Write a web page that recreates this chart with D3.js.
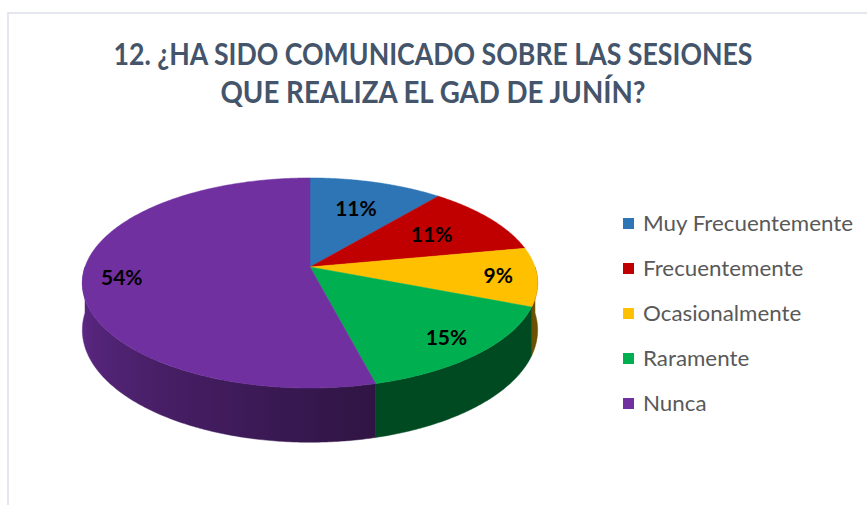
<!DOCTYPE html>
<meta charset="utf-8">
<style>
body{ margin:0; background:#fff; }
svg{ display:block; }
text{ font-family: Lato, "Open Sans", sans-serif; }
</style>
<svg width="867" height="505"></svg>
<script src="https://cdn.jsdelivr.net/npm/d3@7"></script>
<script>

var categories = ["Muy Frecuentemente", "Frecuentemente", "Ocasionalmente", "Raramente", "Nunca"];
var values = [11, 11, 9, 15, 54];
var colors = ["#2E75B6", "#C00000", "#FFC000", "#00B050", "#7030A0"];
var titleLines = ["12. ¿HA SIDO COMUNICADO SOBRE LAS SESIONES", "QUE REALIZA EL GAD DE JUNÍN?"];

var svg = d3.select("svg");
var defs = svg.append("defs");

// frame (only top and left edges are visible)
svg.append("path")
    .attr("d", "M8,505V13H867")
    .attr("fill", "none")
    .attr("stroke", "#dbe0e8")
    .attr("stroke-width", 1.5);

// title
var titleWidths = [639, 425];
svg.selectAll(".title")
  .data(titleLines)
  .enter().append("text")
    .attr("class", "title")
    .attr("x", 433)
    .attr("y", function(d, i) { return 65 + i * 38; })
    .attr("text-anchor", "middle")
    .attr("font-size", 31)
    .attr("font-weight", "bold")
    .attr("fill", "#44546A")
    .attr("textLength", function(d, i) { return titleWidths[i]; })
    .attr("lengthAdjust", "spacingAndGlyphs")
    .text(function(d) { return d; });

// 3d pie with a bit of perspective
var cx = 310, cy = 267,   // projected centre of the pie
    A = 225, B = 102.6,   // horizontal / vertical radii
    k = 0.152,            // perspective strength
    depth = 46;           // thickness

function proj(r, a, drop) {
  var u = Math.sin(a), v = -Math.cos(a),
      w = 1 - k * r * v;
  return [cx + A * r * u / w, cy + B * r * v / w + (drop || 0) / w];
}

var pie = d3.pie().sort(null).startAngle(0).endAngle(2 * Math.PI);
var arcs = pie(values);

function shade(c, a) {
  var deg = a * 180 / Math.PI;
  var f = 0.42 + 0.42 * Math.max(0, Math.min(1, (deg - 165) / 96));
  var col = d3.rgb(c);
  return d3.rgb(col.r * f, col.g * f, col.b * f).formatHex();
}

// visible part of the rim: between the two silhouette points
var silL = Math.PI - Math.acos(k), silR = Math.PI + Math.acos(k);
var xL = proj(1, silR)[0], xR = proj(1, silL)[0];

arcs.forEach(function(d, i) {
  var g = defs.append("linearGradient")
      .attr("id", "wall" + i)
      .attr("gradientUnits", "userSpaceOnUse")
      .attr("x1", xL).attr("x2", xR).attr("y1", 0).attr("y2", 0);
  d3.range(0, 21).forEach(function(j) {
    var a = silR - (silR - silL) * j / 20;
    g.append("stop")
      .attr("offset", (proj(1, a)[0] - xL) / (xR - xL))
      .attr("stop-color", shade(colors[i], a));
  });
});

var walls = arcs.map(function(d, i) {
  return {i: i, a0: Math.max(d.startAngle, Math.PI / 2), a1: Math.min(d.endAngle, Math.PI * 3 / 2)};
}).filter(function(s) { return s.a1 > s.a0; });

svg.append("g").selectAll("path")
  .data(walls)
  .enter().append("path")
    .attr("d", function(s) {
      var n = Math.max(2, Math.ceil((s.a1 - s.a0) / 0.01)), up = [], down = [];
      for (var j = 0; j <= n; j++) {
        var a = s.a0 + (s.a1 - s.a0) * j / n;
        up.push(proj(1, a));
        down.unshift(proj(1, a, depth));
      }
      return "M" + up.concat(down).join("L") + "Z";
    })
    .attr("fill", function(s) { return "url(#wall" + s.i + ")"; })
    .attr("stroke", function(s) { return "url(#wall" + s.i + ")"; })
    .attr("stroke-width", 0.5);

// top faces
var faces = svg.append("g");
faces.selectAll("path")
  .data(arcs)
  .enter().append("path")
    .attr("d", function(d) {
      var pts = [[cx, cy]];
      var n = Math.max(2, Math.ceil((d.endAngle - d.startAngle) / 0.01));
      for (var j = 0; j <= n; j++) {
        pts.push(proj(1, d.startAngle + (d.endAngle - d.startAngle) * j / n));
      }
      return "M" + pts.join("L") + "Z";
    })
    .attr("fill", function(d, i) { return colors[i]; })
    .attr("stroke", function(d, i) { return colors[i]; })
    .attr("stroke-width", 0.5);

// percentage labels
var total = d3.sum(values);
faces.selectAll("text")
  .data(arcs)
  .enter().append("text")
    .attr("transform", function(d) {
      var m = (d.startAngle + d.endAngle) / 2;
      var r = -Math.cos(m) < 0 ? 0.66 : 0.83;
      var p = proj(r, m);
      return "translate(" + p + ")";
    })
    .attr("dy", "0.36em")
    .attr("text-anchor", "middle")
    .attr("font-size", 21)
    .attr("font-weight", "bold")
    .attr("fill", "#000")
    .text(function(d) { return Math.round(d.value / total * 100) + "%"; });

// legend
var legend = svg.append("g")
  .selectAll("g")
  .data(categories)
  .enter().append("g")
    .attr("transform", function(d, i) { return "translate(623," + (223.5 + i * 45) + ")"; });

legend.append("rect")
    .attr("x", 0)
    .attr("y", -5.5)
    .attr("width", 11)
    .attr("height", 11)
    .attr("fill", function(d, i) { return colors[i]; });

var labels = legend.append("text")
    .attr("x", 20)
    .attr("dy", "0.36em")
    .attr("font-size", 21)
    .attr("fill", "#595959")
    .text(function(d) { return d; });

// stretch legend text a little to match the wider original lettering
var stretch = 210 / labels.node().getComputedTextLength();
labels.attr("textLength", function() { return this.getComputedTextLength() * stretch; })
      .attr("lengthAdjust", "spacingAndGlyphs");

</script>
